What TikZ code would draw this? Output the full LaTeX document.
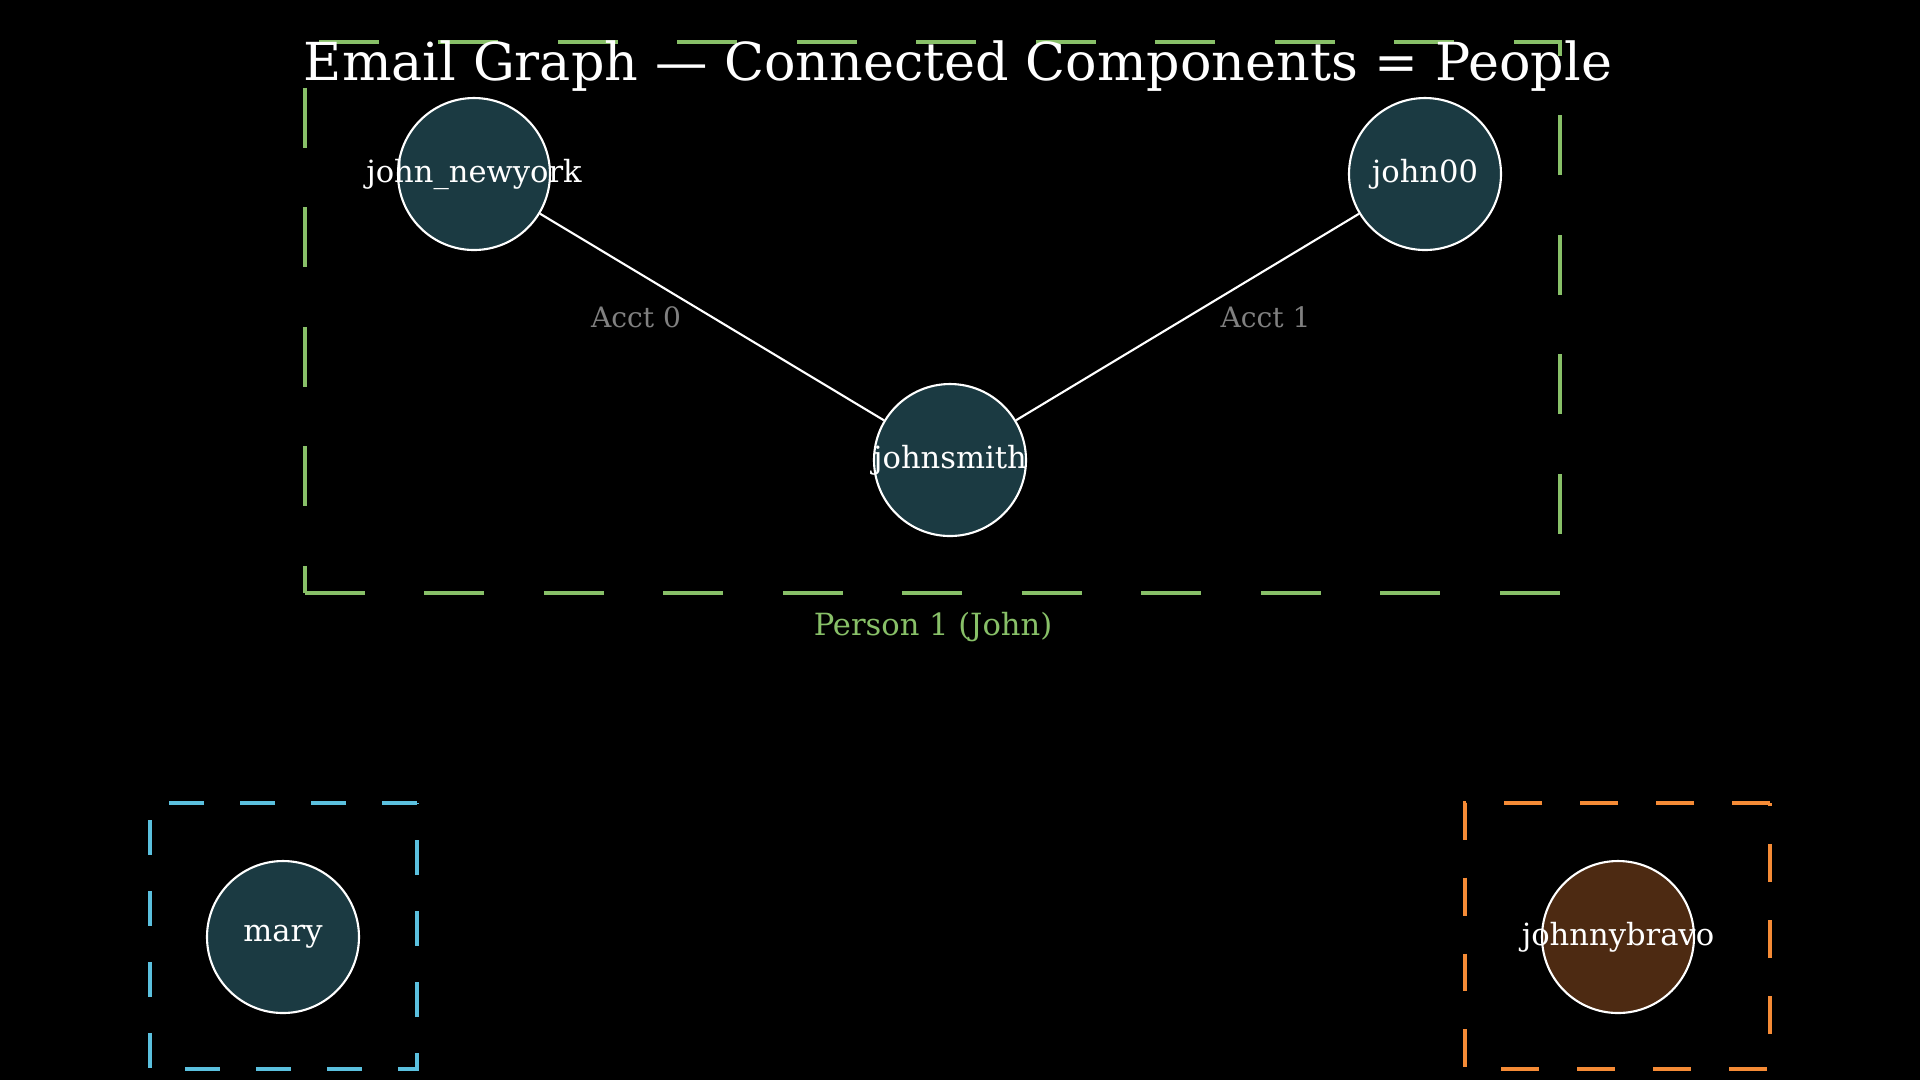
\documentclass[tikz,border=0pt]{standalone}
\usepackage{fontspec}
\setmainfont{DejaVu Serif}
\usetikzlibrary{positioning}

\definecolor{nodeteal}{HTML}{1B3A42}
\definecolor{nodebrown}{HTML}{4D2A12}
\definecolor{johngreen}{HTML}{88C068}
\definecolor{maryblue}{HTML}{5BC0DE}
\definecolor{bravoorange}{HTML}{F58B36}
\definecolor{labelgray}{HTML}{808080}

% label that does not widen its circle
\newcommand{\handle}[1]{\makebox[0pt]{#1}}

\begin{document}
\begin{tikzpicture}[
    x=0.1mm, y=-0.1mm,
    account/.style={circle, draw=white, line width=0.6pt, fill=nodeteal, minimum size=15.2mm, inner sep=0pt, text=white, font=\fontsize{8.7}{10}\selectfont},
    link/.style={draw=white, line width=0.6pt},
    edgelabel/.style={font=\fontsize{8}{10}\selectfont, text=labelgray},
    cluster/.style={line width=1.2pt},
    heading/.style={font=\fontsize{14.9}{17}\selectfont, text=white}
]

% background and page size
\fill[black] (0,0) rectangle (1920,1080);
\useasboundingbox (0,0) rectangle (1920,1080);

% components
\draw[cluster, johngreen, dash pattern=on 17pt off 17pt] (305,593) -- (1560,593) -- (1560,42) -- (305,42) -- cycle;
\draw[cluster, maryblue, dash pattern=on 10.1pt off 10.1pt] (417,803) -- (150,803) -- (150,1069) -- (417,1069) -- cycle;
\draw[cluster, bravoorange, dash pattern=on 10.8pt off 10.8pt] (1770,803) -- (1465,803) -- (1465,1069) -- (1770,1069) -- cycle;

\node[heading, anchor=base] (title) at (958,80) {Email Graph — Connected Components = People};

\node[account] (newyork) at (474,174) {\handle{john\_newyork}};
\node[account] (john00) at (1425,174) {\handle{john00}};
\node[account] (johnsmith) at (950,460) {\handle{johnsmith}};
\node[account] (mary) at (283,937) {\handle{mary}};
\node[account, fill=nodebrown] (bravo) at (1618,937) {\handle{johnnybravo}};

\draw[link] (newyork) -- node[edgelabel, xshift=-7.6mm] (acct0) {Acct 0} (johnsmith);
\draw[link] (john00) -- node[edgelabel, xshift=7.8mm] (acct1) {Acct 1} (johnsmith);

\node[font=\fontsize{8.7}{10}\selectfont, text=johngreen] (person1) at (933,627) {Person 1 (John)};

\end{tikzpicture}
\end{document}
